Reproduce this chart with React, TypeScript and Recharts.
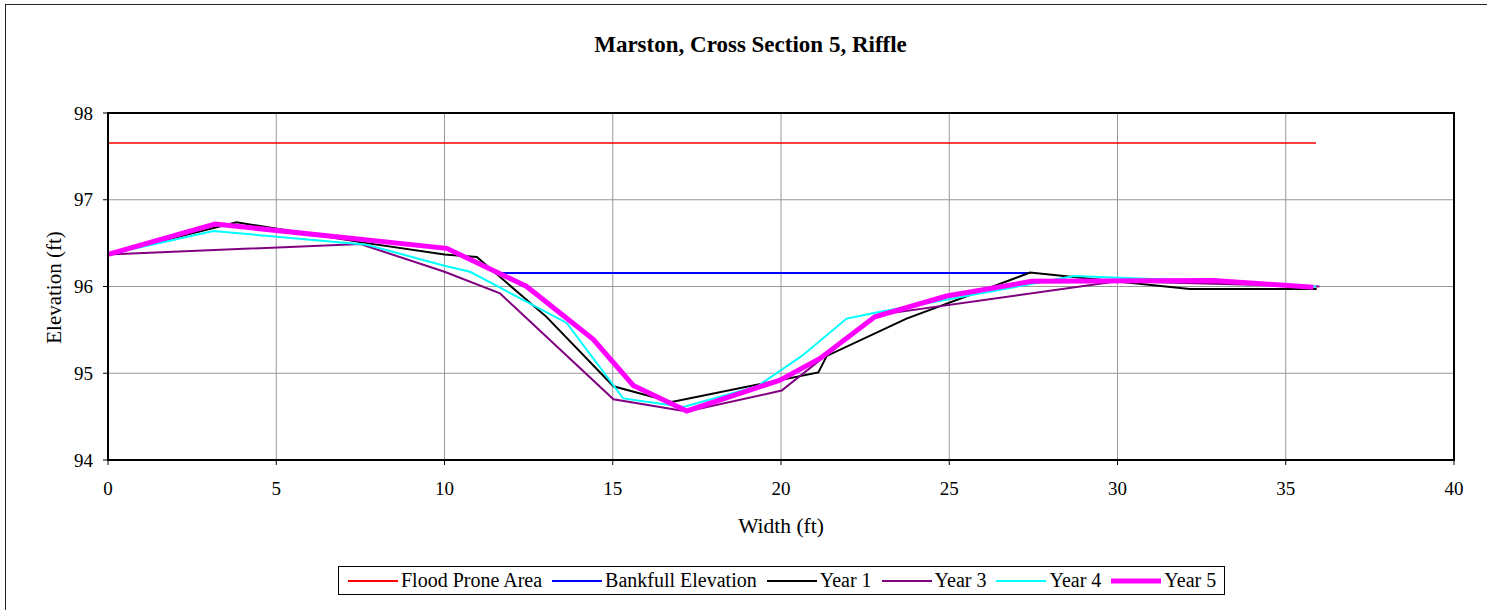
import { LineChart, Line, XAxis, YAxis, CartesianGrid, ReferenceArea } from "recharts";

// x = width along section (ft), y = elevation (ft)
const floodProne: [number, number][] = [[0, 97.655], [35.9, 97.655]];
const bankfull: [number, number][] = [[11.65, 96.155], [27.4, 96.155]];
const year1: [number, number][] = [
  [0, 96.37], [3.82, 96.74], [7.69, 96.5], [10.0, 96.37], [10.96, 96.34], [13.03, 95.65],
  [15.02, 94.85], [16.75, 94.67], [21.11, 95.01], [21.36, 95.2], [23.73, 95.63],
  [27.4, 96.16], [32.15, 95.97], [35.92, 95.97],
];
const year3: [number, number][] = [
  [0, 96.37], [7.5, 96.49], [10.0, 96.17], [11.65, 95.92], [15.02, 94.7], [17.2, 94.56],
  [20.02, 94.8], [22.84, 95.67], [30.0, 96.06], [36.0, 96.0],
];
const year4: [number, number][] = [
  [0, 96.37], [3.13, 96.64], [7.69, 96.48], [10.0, 96.24], [10.76, 96.17], [13.63, 95.58],
  [15.31, 94.71], [17.1, 94.61], [19.3, 94.85], [20.62, 95.2], [21.95, 95.63], [22.84, 95.7],
  [27.6, 96.04], [28.7, 96.12], [32.8, 96.06], [35.9, 96.0],
];
const year5: [number, number][] = [
  [0, 96.37], [3.18, 96.72], [10.07, 96.44], [12.44, 96.0], [14.42, 95.39], [15.61, 94.86],
  [17.2, 94.565], [19.97, 94.92], [21.16, 95.17], [22.79, 95.65], [24.92, 95.89],
  [27.45, 96.06], [32.85, 96.07], [35.82, 95.99],
];

const xTicks = [0, 5, 10, 15, 20, 25, 30, 35, 40];
const yTicks = [94, 95, 96, 97, 98];

const toPoints = (arr: [number, number][]) => arr.map(([x, y]) => ({ x, y }));

const series = [
  { name: "Flood Prone Area", data: floodProne, color: "#FF0000", width: 1.5 },
  { name: "Bankfull Elevation", data: bankfull, color: "#0000FF", width: 2 },
  { name: "Year 1", data: year1, color: "#000000", width: 2 },
  { name: "Year 3", data: year3, color: "#800080", width: 2 },
  { name: "Year 4", data: year4, color: "#00FFFF", width: 2 },
  { name: "Year 5", data: year5, color: "#FF00FF", width: 5 },
];

const FONT = '"Liberation Serif", "Times New Roman", serif';

// serif tick labels (x axis below, y axis to the left)
const XTick = (props: any) => (
  <text x={props.x} y={props.y + 13} textAnchor="middle" fontSize={19} fontFamily="Liberation Serif" fill="#000">
    {props.payload.value}
  </text>
);
const YTick = (props: any) => (
  <text x={props.x} y={props.y + 6.5} textAnchor="end" fontSize={19} fontFamily="Liberation Serif" fill="#000">
    {props.payload.value}
  </text>
);

export default function App() {
  return (
    <div style={{ position: "absolute", left: 0, top: 0, width: 1487, height: 610, overflow: "hidden", background: "#fff", fontFamily: FONT }}>
      {/* outer chart frame */}
      <div style={{ position: "absolute", left: 5, top: 4, width: 1600, height: 700, border: "1.5px solid #222" }} />
      <LineChart
        width={1487}
        height={610}
        margin={{ top: 113, right: 33, left: 48, bottom: 120 }}
        style={{ position: "absolute", left: 0, top: 0, fontFamily: FONT }}
      >
        <CartesianGrid stroke="#999" strokeWidth={1} />
        <XAxis
          type="number"
          dataKey="x"
          domain={[0, 40]}
          ticks={xTicks}
          height={30}
          axisLine={{ stroke: "#000", strokeWidth: 2 }}
          tickLine={{ stroke: "#000" }}
          tickSize={5}
          tickMargin={17}
          tick={<XTick />}
          allowDuplicatedCategory={false}
        />
        <YAxis
          type="number"
          dataKey="y"
          domain={[94, 98]}
          ticks={yTicks}
          width={60}
          axisLine={{ stroke: "#000", strokeWidth: 2 }}
          tickLine={{ stroke: "#000" }}
          tickSize={5}
          tickMargin={10}
          tick={<YTick />}
        />
        <ReferenceArea x1={0} x2={40} y1={94} y2={98} fill="none" stroke="#000" strokeWidth={2} />
        {series.map((s) => (
          <Line
            key={s.name}
            data={toPoints(s.data)}
            dataKey="y"
            name={s.name}
            type="linear"
            stroke={s.color}
            strokeWidth={s.width}
            dot={false}
            activeDot={false}
            isAnimationActive={false}
          />
        ))}
      </LineChart>
      <svg width={1487} height={610} style={{ position: "absolute", left: 0, top: 0, pointerEvents: "none" }}>
        <text x={750.5} y={52} textAnchor="middle" fontSize={23} fontWeight="bold" fontFamily={FONT} fill="#000">
          Marston, Cross Section 5, Riffle
        </text>
        <text x={781} y={533} textAnchor="middle" fontSize={21.5} fontFamily={FONT} fill="#000">
          Width (ft)
        </text>
        <text x={61} y={287.5} textAnchor="middle" fontSize={21} fontFamily={FONT} fill="#000" transform="rotate(-90 61 287.5)">
          Elevation (ft)
        </text>
      </svg>
      {/* legend */}
      <div
        style={{
          position: "absolute", left: 338, top: 566, width: 887, height: 29, boxSizing: "border-box",
          border: "1px solid #000", display: "flex", alignItems: "center", paddingLeft: 9, fontSize: 20, whiteSpace: "nowrap",
        }}
      >
        {series.map((s) => (
          <div key={s.name} style={{ display: "flex", alignItems: "center", marginRight: 10 }}>
            <svg width={50} height={10}>
              <line x1={0} y1={5} x2={50} y2={5} stroke={s.color} strokeWidth={s.width === 5 ? 5 : 2} />
            </svg>
            <span style={{ marginLeft: 3 }}>{s.name}</span>
          </div>
        ))}
      </div>
    </div>
  );
}
